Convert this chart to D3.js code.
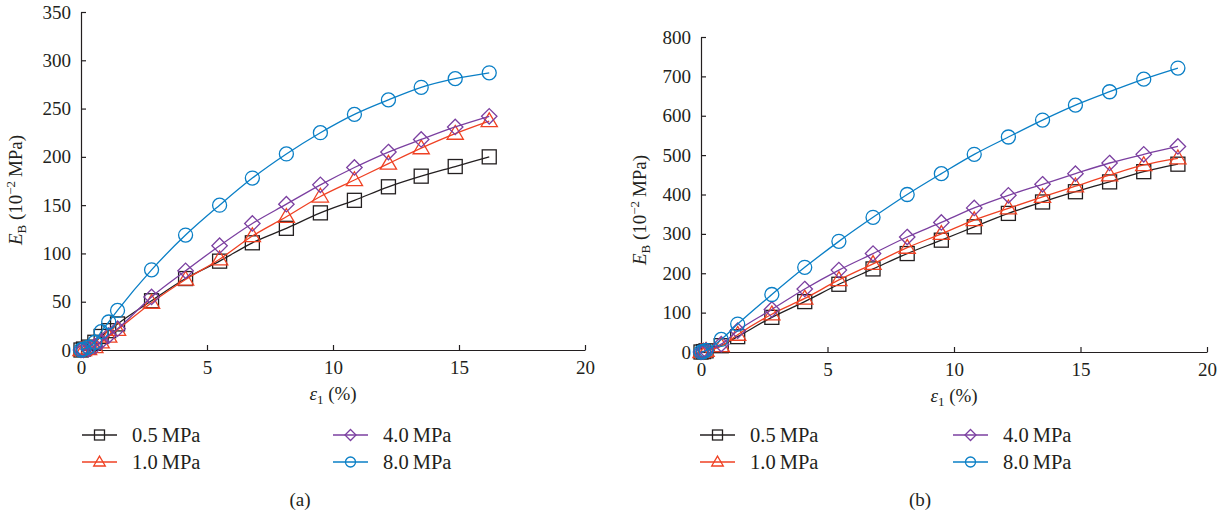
<!DOCTYPE html>
<html lang="en">
<head>
  <meta charset="UTF-8">
  <title>E_B vs strain</title>
  <script src="https://d3js.org/d3.v7.min.js"></script>
  <style>
    body, html {
      margin: 0;
      padding: 0;
      background: #fff;
    }
    svg {
      display: block;
    }
    svg text {
      font-family: "Liberation Serif", "Times New Roman", serif;
    }
    .axis path, .axis line {
      stroke: #231f20;
      stroke-width: 1.2px;
    }
    .axis text {
      font-size: 19px;
      fill: #231f20;
    }
    .label {
      font-size: 19px;
      fill: #231f20;
    }
    .legend text {
      font-size: 20.5px;
      fill: #231f20;
    }
  </style>
</head>
<body>
  <svg width="1228" height="518"></svg>

  <script>
    // series names and colours
    const seriesNames = ["0.5\u2009MPa", "1.0\u2009MPa", "4.0\u2009MPa", "8.0\u2009MPa"];
    const seriesColors = ["#231f20", "#ef4123", "#7b3fa0", "#0a7fc6"];
    const seriesShapes = ["square", "triangle", "diamond", "circle"];

    // panel (a)
    const strainA = [0, 0.1, 0.3, 0.55, 0.8, 1.1, 1.45, 2.8, 4.15, 5.5, 6.8, 8.15, 9.5, 10.85, 12.2, 13.5, 14.85, 16.2];
    const eb05A = [0, 1, 3, 8, 14, 20, 27, 51, 74, 92, 111, 126, 142, 155, 169, 180, 190, 200];
    const eb10A = [0, 0, 1, 3, 8, 14, 21, 49, 73, 94, 118, 138, 159, 176, 193, 209, 224, 237];
    const eb40A = [0, 0, 1, 4, 9, 15, 22, 55, 82, 108, 131, 151, 171, 189, 205, 218, 231, 242];
    const eb80A = [0, 1, 3, 8, 19, 29, 41, 83, 119, 150, 178, 203, 225, 244, 259, 272, 281, 287];

    // panel (b)
    const strainB = [0, 0.1, 0.2, 0.8, 1.45, 2.8, 4.1, 5.45, 6.8, 8.15, 9.5, 10.8, 12.15, 13.5, 14.8, 16.15, 17.5, 18.85];
    const eb05B = [0, 1, 3, 16, 39, 88, 128, 172, 211, 250, 284, 318, 352, 381, 407, 432, 458, 477];
    const eb10B = [0, 1, 3, 15, 44, 96, 136, 183, 224, 265, 300, 335, 365, 394, 421, 449, 475, 492];
    const eb40B = [0, 1, 4, 20, 54, 108, 160, 208, 250, 292, 329, 366, 398, 426, 453, 480, 502, 522];
    const eb80B = [0, 1, 4, 32, 71, 146, 215, 281, 342, 400, 453, 502, 546, 589, 627, 661, 693, 721];

    const xTicks = [0, 5, 10, 15, 20];
    const yTicksA = [0, 50, 100, 150, 200, 250, 300, 350];
    const yTicksB = [0, 100, 200, 300, 400, 500, 600, 700, 800];

    const svg = d3.select("svg");

    function drawMarker(g, shape, color, size) {
      const s = size;
      if (shape === "square") {
        g.append("rect")
          .attr("x", -s / 2).attr("y", -s / 2)
          .attr("width", s).attr("height", s)
          .attr("fill", "none").attr("stroke", color).attr("stroke-width", 1.3);
      } else if (shape === "triangle") {
        const h = s * 0.95;
        g.append("path")
          .attr("d", `M0,${-h * 0.62}L${s * 0.58},${h * 0.42}L${-s * 0.58},${h * 0.42}Z`)
          .attr("fill", "none").attr("stroke", color).attr("stroke-width", 1.3);
      } else if (shape === "diamond") {
        const d = s * 0.55;
        g.append("path")
          .attr("d", `M0,${-d}L${d},0L0,${d}L${-d},0Z`)
          .attr("fill", "none").attr("stroke", color).attr("stroke-width", 1.3);
      } else {
        g.append("circle")
          .attr("r", s / 2)
          .attr("fill", "none").attr("stroke", color).attr("stroke-width", 1.3);
      }
    }

    function panel(opt) {
      const x = d3.scaleLinear().domain([0, 20]).range([opt.x0, opt.x1]);
      const y = d3.scaleLinear().domain([0, opt.yMax]).range([opt.y0, opt.y1]);

      svg.append("g")
        .attr("class", "axis")
        .attr("transform", `translate(0,${opt.y0})`)
        .call(d3.axisBottom(x).tickValues(xTicks).tickSizeInner(-5).tickSizeOuter(0).tickPadding(11))
        .call(g => g.selectAll(".tick text").attr("dy", "0.71em"));

      svg.append("g")
        .attr("class", "axis")
        .attr("transform", `translate(${opt.x0},0)`)
        .call(d3.axisLeft(y).tickValues(opt.yTicks).tickSizeInner(-5).tickSizeOuter(0).tickPadding(10));

      svg.selectAll(".axis").attr("font-family", null);

      const line = d3.line()
        .x(d => x(d[0]))
        .y(d => y(d[1]))
        .curve(d3.curveMonotoneX);

      opt.series.forEach((vals, i) => {
        const pts = opt.strain.map((s, k) => [s, vals[k]]);
        svg.append("path")
          .datum(pts)
          .attr("d", line)
          .attr("fill", "none")
          .attr("stroke", seriesColors[i])
          .attr("stroke-width", 1.3);
        pts.forEach(p => {
          const g = svg.append("g").attr("transform", `translate(${x(p[0])},${y(p[1])})`);
          drawMarker(g, seriesShapes[i], seriesColors[i], 14);
        });
      });

      // y label
      const yl = svg.append("text")
        .attr("class", "label")
        .attr("transform", `translate(${opt.ylabX},${opt.ylabY}) rotate(-90)`)
        .attr("text-anchor", "middle");
      yl.append("tspan").attr("font-style", "italic").text("E");
      yl.append("tspan").attr("font-size", "13px").attr("dy", "4").text("B");
      yl.append("tspan").attr("dy", "-4").text(" (10");
      yl.append("tspan").attr("font-size", "13px").attr("dy", "-7").text("−2");
      yl.append("tspan").attr("dy", "7").text("\u2009MPa)");

      // x label
      const xl = svg.append("text")
        .attr("class", "label")
        .attr("x", x(10))
        .attr("y", opt.y0 + 50)
        .attr("text-anchor", "middle");
      xl.append("tspan").attr("font-style", "italic").text("ε");
      xl.append("tspan").attr("font-size", "13px").attr("dy", "4").text("1");
      xl.append("tspan").attr("dy", "-4").text(" (%)");

      // legend
      const cols = [opt.legX, opt.legX + opt.legCol];
      const rows = [435, 462];
      const order = [[0, 0], [1, 0], [0, 1], [1, 1]];
      seriesNames.forEach((name, i) => {
        const lx = cols[order[i][1]];
        const ly = rows[order[i][0]];
        const lg = svg.append("g").attr("class", "legend").attr("transform", `translate(${lx},${ly})`);
        lg.append("line")
          .attr("x1", 0).attr("x2", 35)
          .attr("stroke", seriesColors[i]).attr("stroke-width", 1.3);
        const m = lg.append("g").attr("transform", "translate(17.5,0)");
        drawMarker(m, seriesShapes[i], seriesColors[i], 10);
        lg.append("text")
          .attr("x", 50)
          .attr("dy", "0.35em")
          .text(name);
      });

      svg.append("text")
        .attr("class", "label")
        .attr("x", opt.capX)
        .attr("y", 506)
        .attr("text-anchor", "middle")
        .text(opt.caption);
    }

    panel({
      x0: 81, x1: 585, y0: 350, y1: 12, yMax: 350, yTicks: yTicksA,
      strain: strainA, series: [eb05A, eb10A, eb40A, eb80A],
      ylabX: 22, ylabY: 190, legX: 82, legCol: 251, capX: 300, caption: "(a)"
    });

    panel({
      x0: 701, x1: 1207, y0: 352, y1: 37, yMax: 800, yTicks: yTicksB,
      strain: strainB, series: [eb05B, eb10B, eb40B, eb80B],
      ylabX: 646, ylabY: 210, legX: 700, legCol: 253, capX: 920, caption: "(b)"
    });
  </script>
</body>
</html>
